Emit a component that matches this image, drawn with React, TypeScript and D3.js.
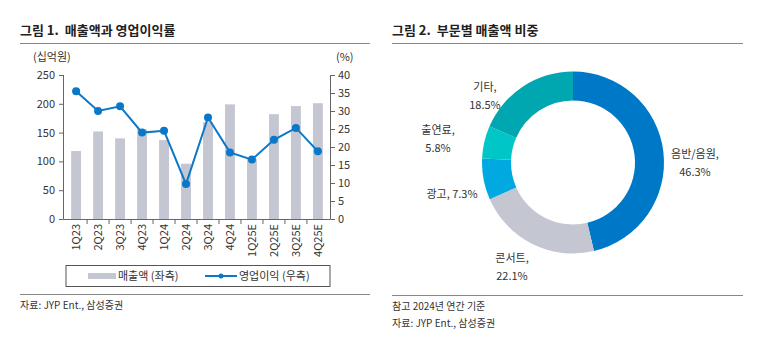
import * as d3 from "d3";

const quarters = ["1Q23", "2Q23", "3Q23", "4Q23", "1Q24", "2Q24", "3Q24", "4Q24", "1Q25E", "2Q25E", "3Q25E", "4Q25E"];
const sales = [118, 152, 140, 156, 137, 96, 168, 199, 104, 182, 196, 201];
const opMargin = [35.5, 30, 31.3, 24, 24.5, 9.7, 28.2, 18.5, 16.5, 22, 25.3, 18.8];
const leftTicks = [0, 50, 100, 150, 200, 250];
const rightTicks = [0, 5, 10, 15, 20, 25, 30, 35, 40];

const segments = ["음반/음원", "콘서트", "광고", "출연료", "기타"];
const shares = [46.3, 22.1, 7.3, 5.8, 18.5];
const segColors = ["#0078c8", "#c4c6d2", "#00a9e0", "#00c6c8", "#00a7b0"];

const FONT = "'Noto Sans CJK KR', 'Noto Sans', sans-serif";
const TXT = "#333";

export default function App() {
  // left chart scales
  const x = d3.scaleBand().domain(quarters).range([65, 329]).paddingInner(0.55).paddingOuter(0.28);
  const yL = d3.scaleLinear().domain([0, 250]).range([219, 75]);
  const yR = d3.scaleLinear().domain([0, 40]).range([219, 75]);
  const cx = (q: string) => (x(q) ?? 0) + x.bandwidth() / 2;
  const line = d3
    .line<number>()
    .x((_, i) => cx(quarters[i]))
    .y((d) => yR(d));

  // donut
  const pie = d3.pie<number>().sort(null).value((d) => d);
  const arcs = pie(shares);
  const arc = d3.arc<d3.PieArcDatum<number>>().innerRadius(62).outerRadius(91);
  const pc = { x: 573, y: 162.5 };

  const labelPos: [number, number, number][] = [
    [695, 158, 176],
    [512, 262, 280],
    [452, 198, 198],
    [438, 134, 152],
    [485, 91, 109],
  ];

  return (
    <svg width={771} height={360} style={{ position: "absolute", left: 0, top: 0, background: "#fff" }} fontFamily={FONT}>
      {/* left panel header */}
      <text x={20} y={35} fontSize={13} fontWeight="bold" fill="#222">
        <tspan>그림 1.</tspan>
        <tspan dx={6}>매출액과 영업이익률</tspan>
      </text>
      <line x1={20} x2={370} y1={43.5} y2={43.5} stroke="#888" />

      <text x={33} y={61} fontSize={11} fill={TXT}>(십억원)</text>
      <text x={336} y={61} fontSize={11} fill={TXT}>(%)</text>

      {sales.map((v, i) => (
        <rect key={quarters[i]} x={x(quarters[i])} y={yL(v)} width={x.bandwidth()} height={yL(0) - yL(v)} fill="#c4c6d2" />
      ))}

      {/* axes */}
      <line x1={63.5} x2={63.5} y1={75} y2={219} stroke="#666" />
      <line x1={330.5} x2={330.5} y1={75} y2={219} stroke="#666" />
      <line x1={63.5} x2={330.5} y1={219.5} y2={219.5} stroke="#666" />
      {leftTicks.map((t) => (
        <g key={"l" + t}>
          <line x1={59} x2={63.5} y1={yL(t) + 0.5} y2={yL(t) + 0.5} stroke="#666" />
          <text x={55} y={yL(t) + 4} fontSize={11} fill={TXT} textAnchor="end">{t}</text>
        </g>
      ))}
      {rightTicks.map((t) => (
        <g key={"r" + t}>
          <line x1={330.5} x2={335} y1={yR(t) + 0.5} y2={yR(t) + 0.5} stroke="#666" />
          <text x={338} y={yR(t) + 4} fontSize={11} fill={TXT}>{t}</text>
        </g>
      ))}
      {quarters.map((q, i) => (
        <g key={"x" + q}>
          {i > 0 && <line x1={(x(q) ?? 0) - (x.step() - x.bandwidth()) / 2} x2={(x(q) ?? 0) - (x.step() - x.bandwidth()) / 2} y1={219.5} y2={224} stroke="#666" />}
          <text transform={`translate(${cx(q) + 4},224) rotate(-90)`} fontSize={11} fill={TXT} textAnchor="end">{q}</text>
        </g>
      ))}

      <path d={line(opMargin) ?? ""} fill="none" stroke="#0a78c8" strokeWidth={2} />
      {opMargin.map((v, i) => (
        <circle key={"d" + i} cx={cx(quarters[i])} cy={yR(v)} r={4} fill="#0a78c8" />
      ))}

      {/* legend */}
      <rect x={66} y={265.5} width={264} height={21} fill="none" stroke="#555" />
      <rect x={88} y={273} width={28} height={6} fill="#c4c6d2" />
      <text x={118} y={280} fontSize={11} fill={TXT}>매출액 (좌측)</text>
      <line x1={205} x2={237} y1={276} y2={276} stroke="#0a78c8" strokeWidth={2} />
      <circle cx={221} cy={276} r={2.5} fill="#0a78c8" />
      <text x={239} y={280} fontSize={11} fill={TXT}>영업이익 (우측)</text>

      <line x1={20} x2={370} y1={294.5} y2={294.5} stroke="#888" />
      <text x={20} y={309} fontSize={10} fill={TXT}>자료: JYP Ent., 삼성증권</text>

      {/* right panel */}
      <text x={392} y={35} fontSize={13} fontWeight="bold" fill="#222">
        <tspan>그림 2.</tspan>
        <tspan dx={6}>부문별 매출액 비중</tspan>
      </text>
      <line x1={392} x2={743} y1={43.5} y2={43.5} stroke="#888" />

      <g transform={`translate(${pc.x},${pc.y})`}>
        {arcs.map((a, i) => (
          <path key={segments[i]} d={arc(a) ?? ""} fill={segColors[i]} />
        ))}
      </g>

      {segments.map((s, i) => {
        const [lx, y1, y2] = labelPos[i];
        const pct = shares[i].toFixed(1) + "%";
        if (y1 === y2)
          return (
            <text key={"lab" + s} x={lx} y={y1} fontSize={11} fill={TXT} textAnchor="middle">{`${s}, ${pct}`}</text>
          );
        return (
          <g key={"lab" + s}>
            <text x={lx} y={y1} fontSize={11} fill={TXT} textAnchor="middle">{s + ","}</text>
            <text x={lx} y={y2} fontSize={11} fill={TXT} textAnchor="middle">{pct}</text>
          </g>
        );
      })}

      <line x1={392} x2={743} y1={295.5} y2={295.5} stroke="#888" />
      <text x={392} y={310} fontSize={10} fill={TXT}>참고 2024년 연간 기준</text>
      <text x={392} y={327} fontSize={10} fill={TXT}>자료: JYP Ent., 삼성증권</text>
    </svg>
  );
}
